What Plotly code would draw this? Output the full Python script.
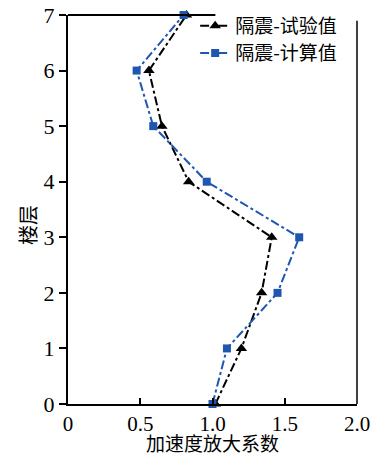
import plotly.graph_objects as go

# Storey levels and acceleration amplification factors
floors = [0, 1, 2, 3, 4, 5, 6, 7]
test_values = [1.02, 1.20, 1.34, 1.41, 0.835, 0.65, 0.56, 0.82]
calc_values = [1.00, 1.10, 1.45, 1.60, 0.96, 0.59, 0.475, 0.80]

x_ticks = [0, 0.5, 1.0, 1.5, 2.0]
x_tick_text = ["0", "0.5", "1.0", "1.5", "2.0"]
y_ticks = [0, 1, 2, 3, 4, 5, 6, 7]

series_names = ["隔震-试验值", "隔震-计算值"]
x_title = "加速度放大系数"
y_title = "楼层"

BLUE = "#1f56b0"
CJK = "Noto Sans CJK SC"
SERIF = "Liberation Serif"

fig = go.Figure()
fig.add_trace(go.Scatter(
    x=test_values, y=floors, name=series_names[0], mode="lines+markers",
    line=dict(color="black", width=2, dash="dashdot"),
    marker=dict(symbol="triangle-up", size=10, color="black"),
    cliponaxis=False, legend="legend",
))
fig.add_trace(go.Scatter(
    x=calc_values, y=floors, name=series_names[1], mode="lines+markers",
    line=dict(color=BLUE, width=2, dash="dashdot"),
    marker=dict(symbol="square", size=8, color=BLUE),
    cliponaxis=False, legend="legend2",
))

# Partial top frame line and right frame line
fig.add_shape(type="line", xref="paper", yref="paper", x0=0, x1=0.51, y0=1, y1=1,
              line=dict(color="black", width=2), layer="above")
fig.add_shape(type="line", xref="paper", yref="paper", x0=1, x1=1, y0=0, y1=0.985,
              line=dict(color="black", width=1.5), layer="above")

# Axis titles
fig.add_annotation(text=x_title, xref="paper", yref="paper", x=0.5, y=-0.1,
                   xanchor="center", yanchor="middle", showarrow=False,
                   font=dict(family=CJK, size=19, color="black"))
fig.add_annotation(text=y_title, xref="paper", yref="paper", x=-0.142, y=0.46,
                   xanchor="center", yanchor="middle", showarrow=False, textangle=-90,
                   font=dict(family=CJK, size=20, color="black"))

legend_style = dict(
    xanchor="left", yanchor="middle", bgcolor="rgba(255,255,255,0)", borderwidth=0,
    font=dict(family=CJK, size=19, color="black"), itemwidth=30,
)

fig.update_layout(
    width=372, height=457,
    margin=dict(l=68, r=15, t=15, b=53, autoexpand=False),
    paper_bgcolor="white", plot_bgcolor="white",
    showlegend=True,
    legend=dict(x=0.44, y=0.972, **legend_style),
    legend2=dict(x=0.44, y=0.902, **legend_style),
    xaxis=dict(
        range=[0, 2], tickmode="array", tickvals=x_ticks, ticktext=x_tick_text,
        ticks="inside", ticklen=6, tickwidth=1.5, tickcolor="black",
        showline=True, linecolor="black", linewidth=2, mirror=False,
        showgrid=False, zeroline=False, automargin=False,
        tickfont=dict(family=SERIF, size=21, color="black"),
    ),
    yaxis=dict(
        range=[0, 7], tickmode="array", tickvals=y_ticks,
        ticks="outside", ticklen=7, tickwidth=1.5, tickcolor="black",
        showline=True, linecolor="black", linewidth=2, mirror=False,
        showgrid=False, zeroline=False, automargin=False,
        tickfont=dict(family=SERIF, size=22, color="black"),
    ),
)

fig.write_html("out.html")
